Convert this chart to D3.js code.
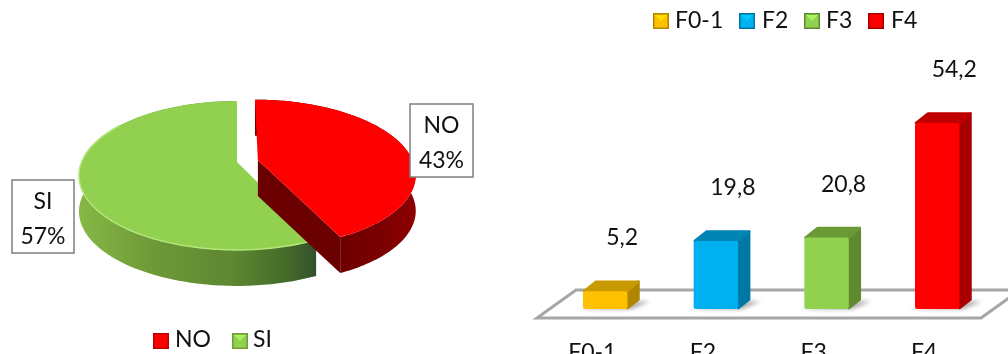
<!DOCTYPE html>
<html>
<head>
<meta charset="utf-8">
<script src="https://cdn.jsdelivr.net/npm/d3@7/dist/d3.min.js"></script>
<style>
html,body{margin:0;padding:0;background:#fff;overflow:hidden}
svg{display:block;filter:blur(0.35px)}
text{font-family:Lato,"Open Sans",sans-serif;fill:#111}
</style>
</head>
<body>
<svg id="c" width="1008" height="354"></svg>
<script>
const pieCategories = ["NO", "SI"];
const pieValues = [43, 57];
const pieColors = ["#ff0000", "#92d050"];
const barCategories = ["F0-1", "F2", "F3", "F4"];
const barValues = [5.2, 19.8, 20.8, 54.2];
const barLabels = ["5,2", "19,8", "20,8", "54,2"];
const barFront = ["#ffc000", "#00b0f0", "#92d050", "#ff0000"];
const barTop = ["#c99a00", "#0085b5", "#6a9a35", "#c00000"];
const barSide = ["#b08600", "#0078a4", "#5f8a30", "#a80000"];

const svg = d3.select("#c");
const defs = svg.append("defs");
const FS = 23;

// ---------- shared defs ----------
function grad(id, x1, x2, stops) {
  const g = defs.append("linearGradient").attr("id", id)
    .attr("gradientUnits", "userSpaceOnUse").attr("x1", x1).attr("x2", x2).attr("y1", 0).attr("y2", 0);
  stops.forEach(s => g.append("stop").attr("offset", s[0]).attr("stop-color", s[1]));
}
grad("siSide", 79, 316, [[0, "#86b845"], [0.3, "#6f9a38"], [0.65, "#5d8731"], [0.88, "#456a2a"], [1, "#33502a"]]);
grad("noSide", 330, 416, [[0, "#6a0000"], [0.6, "#7c0000"], [1, "#8e0000"]]);
defs.append("filter").attr("id", "soft").attr("x", "-30%").attr("y", "-100%").attr("width", "160%").attr("height", "300%")
  .append("feGaussianBlur").attr("stdDeviation", 2);

function legendSwatch(g, x, y, color, dark) {
  const s = 16;
  g.append("rect").attr("x", x).attr("y", y).attr("width", s).attr("height", s).attr("fill", dark);
  g.append("rect").attr("x", x + 1.5).attr("y", y + 1.5).attr("width", s - 3).attr("height", s - 3).attr("fill", color);
  g.append("path").attr("d", d3.line()([[x + 2, y + 2], [x + s - 2, y + 2], [x + s / 2, y + s / 2]]))
    .attr("fill", d3.color(color).brighter(0.5)).attr("opacity", 0.8);
}

// ---------- 3D pie: a disc seen in perspective ----------
const pie = d3.pie().sort(null).startAngle(0).endAngle(2 * Math.PI)(pieValues);
const cx = 237, cy = 162, R = 155.4, S = 72, K = 0.181, depth = 36, explode = 0.125, nudge = 2;

function project(u, v, z) {
  const w = 1 - K * v;
  return [cx + R * u / w, cy + S * v / w + (z || 0)];
}
function rim(a0, a1, ox, oy, z) {
  const n = Math.max(2, Math.ceil(Math.abs(a1 - a0) / 0.02));
  return d3.range(n + 1).map(i => {
    const a = a0 + (a1 - a0) * i / n;
    return project(Math.sin(a) + ox, -Math.cos(a) + oy, z);
  });
}
const line = d3.line();
const pieG = svg.append("g");

// SI slice
(function () {
  const d = pie[1];
  const outer = rim(d.startAngle, d.endAngle, 0, 0, 0);
  const lower = rim(d.endAngle, d.startAngle, 0, 0, depth);
  pieG.append("path").attr("d", line(outer.concat(lower)) + "Z").attr("fill", "url(#siSide)");
  pieG.append("path").attr("d", line([project(0, 0, 0), project(0, -1, 0), project(0, -1, depth), project(0, 0, depth)]) + "Z")
    .attr("fill", "#6f9a38");
  pieG.append("path").attr("d", line([project(0, 0, 0)].concat(outer)) + "Z").attr("fill", pieColors[1]);
  pieG.append("path").attr("d", line(rim(d.startAngle, d.startAngle + 2.6, 0, 0, 0)))
    .attr("fill", "none").attr("stroke", "#b4e67c").attr("stroke-width", 1.5);
})();

// NO slice, pulled away from the centre
(function () {
  const d = pie[0];
  const mid = (d.startAngle + d.endAngle) / 2;
  const ox = explode * Math.sin(mid), oy = -explode * Math.cos(mid);
  const outer = rim(d.startAngle, d.endAngle, ox, oy, 0);
  const lower = rim(d.endAngle, d.startAngle, ox, oy, depth);
  const apex = project(ox, oy, 0), apexLow = project(ox, oy, depth);
  const g = pieG.append("g").attr("transform", `translate(${nudge},0)`);
  g.append("path").attr("d", line(outer.concat(lower)) + "Z").attr("fill", "url(#noSide)");
  const end = outer[outer.length - 1];
  g.append("path").attr("d", line([apex, end, [end[0], end[1] + depth], apexLow]) + "Z").attr("fill", "#6a0000");
  g.append("path").attr("d", line([apex].concat(outer)) + "Z").attr("fill", pieColors[0]);
})();

// pie data labels
[[410, 104, 63, 73], [12, 180, 62, 73]].forEach((b, i) => {
  const g = svg.append("g");
  g.append("rect").attr("x", b[0]).attr("y", b[1]).attr("width", b[2]).attr("height", b[3])
    .attr("fill", "#fff").attr("stroke", "#7f7f7f").attr("stroke-width", 1.5);
  g.append("text").attr("x", b[0] + b[2] / 2).attr("y", b[1] + 29).attr("text-anchor", "middle")
    .attr("font-size", FS).text(pieCategories[i]);
  g.append("text").attr("x", b[0] + b[2] / 2).attr("y", b[1] + 64).attr("text-anchor", "middle")
    .attr("font-size", FS).text(pieValues[i] + "%");
});

// pie legend
const pieLegend = svg.append("g");
[[153, 175], [232, 253]].forEach((p, i) => {
  legendSwatch(pieLegend, p[0], 333, pieColors[i], i ? "#6f9a38" : "#c00000");
  pieLegend.append("text").attr("x", p[1]).attr("y", 347).attr("font-size", FS).text(pieCategories[i]);
});

// ---------- 3D bars ----------
const x = d3.scaleBand().domain(barCategories).range([583, 959.5]).paddingInner(0.598).paddingOuter(0);
const y = d3.scaleLinear().domain([0, 54.2]).range([309, 123]);
const dx = 12, dy = -10.5;

// floor
svg.append("path")
  .attr("d", line([[537, 318], [981, 318], [1020, 290], [576, 290]]) + "Z")
  .attr("fill", "#fff").attr("stroke", "#a6a6a6").attr("stroke-width", 3);

const bars = svg.append("g").selectAll("g").data(barValues).join("g");
bars.each(function (v, i) {
  const g = d3.select(this);
  const x0 = x(barCategories[i]), w = x.bandwidth(), x1 = x0 + w, top = y(v), base = y(0);
  g.append("path").attr("d", line([[x0 - 5, base], [x1 + 3, base], [x1 + dx + 10, base + dy + 3], [x1 + dx, base + dy + 3]]) + "Z")
    .attr("fill", "#555").attr("opacity", 0.55).attr("filter", "url(#soft)");
  const joined = sel => sel.attr("stroke-linejoin", "round").attr("stroke-width", 2.5);
  g.append("path").attr("d", line([[x1, top + 1], [x1 + dx - 1, top + dy + 1], [x1 + dx - 1, base + dy + 1], [x1, base - 1]]) + "Z")
    .attr("fill", barSide[i]).attr("stroke", barSide[i]).call(joined);
  g.append("path").attr("d", line([[x0 + 1, top], [x0 + dx + 1, top + dy + 1], [x1 + dx - 1, top + dy + 1], [x1, top]]) + "Z")
    .attr("fill", barTop[i]).attr("stroke", barTop[i]).call(joined);
  g.append("rect").attr("x", x0).attr("y", top).attr("width", w).attr("height", base - top).attr("rx", 2.5)
    .attr("fill", barFront[i]);
  g.append("text").attr("x", x0 + w / 2 + 17).attr("y", top - 46).attr("text-anchor", "middle")
    .attr("font-size", FS).text(barLabels[i]);
});

// category axis
const axisG = svg.append("g").attr("transform", "translate(-13,342)")
  .call(d3.axisBottom(x).tickSize(0).tickPadding(2));
axisG.select(".domain").remove();
axisG.selectAll("text").attr("font-size", FS).style("font-family", "Lato").attr("fill", "#111");

// bar legend
const barLegend = svg.append("g");
[[653, 675], [739, 762], [804, 826], [868, 891]].forEach((p, i) => {
  legendSwatch(barLegend, p[0], 13, barFront[i], barSide[i]);
  barLegend.append("text").attr("x", p[1]).attr("y", 28).attr("font-size", FS).text(barCategories[i]);
});
</script>
</body>
</html>
